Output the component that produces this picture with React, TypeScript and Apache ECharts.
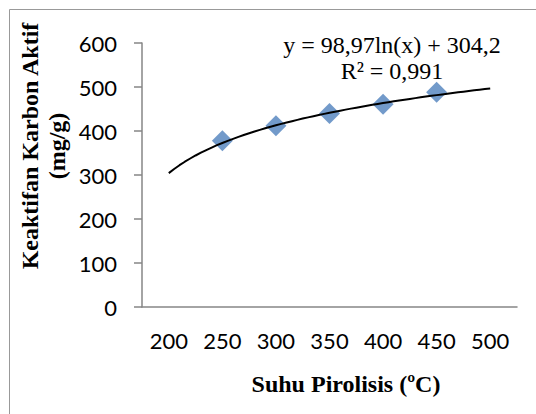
import React, { useEffect, useRef } from "react";
import * as echarts from "echarts";

const X_TICKS = [200, 250, 300, 350, 400, 450, 500];
const SUHU = [250, 300, 350, 400, 450];
const KEAKTIFAN = [378, 412, 440, 461, 488];
// trendline as printed on the chart: y = 98,97 ln(x) + 304,2 (x = position index, 200 -> 1)
const TREND_A = 98.97;
const TREND_B = 304.2;
const EQ_LINE1 = "y = 98,97ln(x) + 304,2";
const EQ_LINE2 = "R² = 0,991";

export default function App() {
  const ref = useRef<HTMLDivElement>(null);
  useEffect(() => {
    if (!ref.current) return;
    const chart = echarts.init(ref.current, null, { renderer: "svg" });
    const first = X_TICKS[0];
    const step = X_TICKS[1] - X_TICKS[0];
    const trend: number[][] = [];
    for (let t = first; t <= X_TICKS[X_TICKS.length - 1]; t += 5) {
      const idx = (t - first) / step + 1;
      trend.push([t, TREND_A * Math.log(idx) + TREND_B]);
    }
    const gray = "#868686";
    chart.setOption({
      animation: false,
      backgroundColor: "#ffffff",
      grid: { left: 142, top: 43, right: 19, bottom: 107 },
      xAxis: {
        type: "value",
        min: first - step / 2,
        max: X_TICKS[X_TICKS.length - 1] + step / 2,
        splitLine: { show: false },
        axisLine: { show: true, lineStyle: { color: gray, width: 1.5 } },
        axisTick: { show: false },
        axisLabel: {
          customValues: X_TICKS,
          margin: 22,
          color: "#000",
          fontFamily: "Lato",
          fontSize: 22,
        },
      },
      yAxis: {
        type: "value",
        min: 0,
        max: 600,
        interval: 100,
        splitLine: { show: false },
        axisLine: { show: true, lineStyle: { color: gray, width: 1.5 } },
        axisTick: { show: true, length: 8, lineStyle: { color: gray, width: 1.5 } },
        axisLabel: {
          margin: 25,
          color: "#000",
          fontFamily: "Lato",
          fontSize: 22,
        },
      },
      series: [
        {
          type: "line",
          data: trend,
          showSymbol: false,
          symbol: "none",
          lineStyle: { color: "#000", width: 2 },
          z: 3,
        },
        {
          type: "scatter",
          data: SUHU.map((s, i) => [s, KEAKTIFAN[i]]),
          symbol: "diamond",
          symbolSize: 21,
          itemStyle: { color: "#4F81BD" },
          z: 2,
        },
      ],
      graphic: [
        {
          type: "rect",
          shape: { x: 9.5, y: 9.5, width: 600, height: 500 },
          style: { fill: "none", stroke: "#999999", lineWidth: 1 },
          silent: true,
        },
        {
          type: "text",
          x: 43,
          y: 146,
          rotation: Math.PI / 2,
          style: {
            text: "Keaktifan Karbon Aktif\n(mg/g)",
            font: "bold 24px 'Liberation Serif'",
            fill: "#000",
            align: "center",
            verticalAlign: "middle",
            lineHeight: 27,
          },
        },
        {
          type: "text",
          x: 346,
          y: 384,
          style: {
            text: "Suhu Pirolisis (ºC)",
            font: "bold 24px 'Liberation Serif'",
            fill: "#000",
            align: "center",
            verticalAlign: "middle",
          },
        },
        {
          type: "text",
          x: 392,
          y: 58,
          style: {
            text: EQ_LINE1 + "\n" + EQ_LINE2,
            font: "24px 'Liberation Serif'",
            fill: "#000",
            align: "center",
            verticalAlign: "middle",
            lineHeight: 26,
          },
        },
      ],
    });
    return () => chart.dispose();
  }, []);
  return (
    <div
      ref={ref}
      style={{ position: "fixed", left: 0, top: 0, width: 536, height: 414 }}
    />
  );
}
